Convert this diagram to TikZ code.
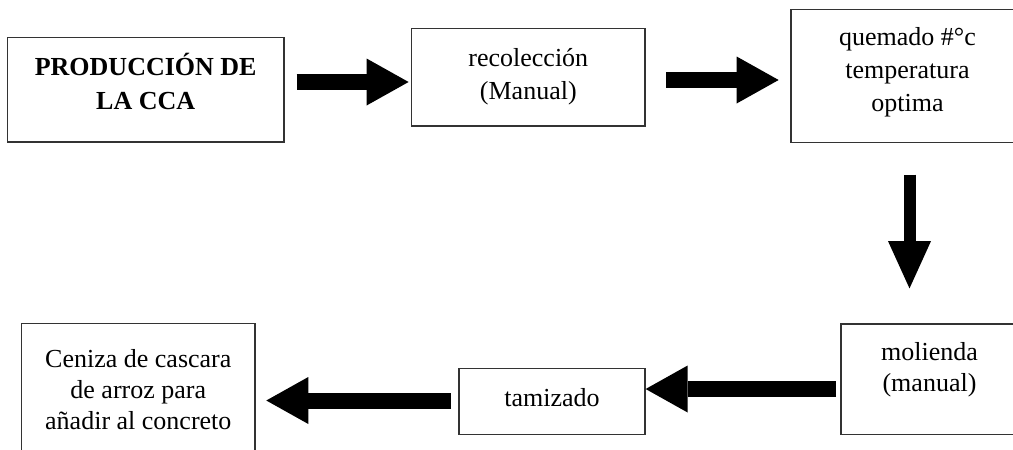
\documentclass[tikz,border=0pt]{standalone}
\usepackage{fontspec}
\setmainfont{Liberation Serif}
\usetikzlibrary{arrows.meta,calc}
\begin{document}
\begin{tikzpicture}[x=1pt,y=-1pt,
  box/.style={draw=black!80,line width=1.3pt,inner sep=0pt},
  label/.style={align=center,inner sep=0pt,font=\fontsize{26pt}{31pt}\selectfont},
  bigarrow/.style={line width=#1,draw=black,
    -{Triangle[length=42pt,width=47pt,line width=0pt]}},
  bigarrow/.default=16pt]
\path[use as bounding box,clip] (0,0) rectangle (1013,450);

% process boxes
\node[box,minimum width=276.7pt,minimum height=104.3pt] (b1) at (145.7,89.9) {};
\node[box,minimum width=233.3pt,minimum height=97.7pt] (b2) at (528.3,77.2) {};
\node[box,minimum width=233pt,minimum height=133pt] (b3) at (907.5,75.8) {};
\node[box,minimum width=177pt,minimum height=110.3pt] (b4) at (929.5,379.2) {};
\node[box,minimum width=186pt,minimum height=66pt] (b5) at (552,401.3) {};
\node[box,minimum width=233.3pt,minimum height=143pt] (b6) at (138.3,395) {};

% box texts
\node[label,font=\fontsize{26pt}{34pt}\selectfont\bfseries] (t1) at (145.7,81.5) {PRODUCCIÓN DE\\LA CCA};
\node[label,font=\fontsize{26pt}{32.5pt}\selectfont] (t2) at (528.3,76.6) {recolección\\(Manual)};
\node[label,font=\fontsize{26pt}{33pt}\selectfont] (t3) at (907.5,72.5) {quemado \#°c\\temperatura\\optima};
\node[label] (t4) at (929.5,369.4) {molienda\\(manual)};
\node[label] (t5) at (552,397.2) {tamizado};
\node[label] (t6) at (138.3,390) {Ceniza de cascara\\de arroz para\\añadir al concreto};

% block arrows between the steps
\draw[bigarrow] ($(b1.east|-0,82)+(12,0)$) -- ($(b2.west|-0,82)+(-2.4,0)$);
\draw[bigarrow=16.6pt] ($(b2.east|-0,80)+(20.7,0)$) -- ($(b3.west|-0,80)+(-11.7,0)$);
\draw[line width=12pt,-{Triangle[length=47.3pt,width=43pt,line width=0pt]}]
  ($(b3.south-|909.5,0)+(0,31.7)$) -- ($(b4.north-|909.5,0)+(0,-35)$);
\draw[bigarrow=15.4pt] ($(b4.west|-0,389)+(-4.3,0)$) -- (b5.east|-0,389);
\draw[bigarrow] ($(b5.west|-0,400.5)+(-7.3,0)$) -- ($(b6.east|-0,400.5)+(10.7,0)$);
\end{tikzpicture}
\end{document}
